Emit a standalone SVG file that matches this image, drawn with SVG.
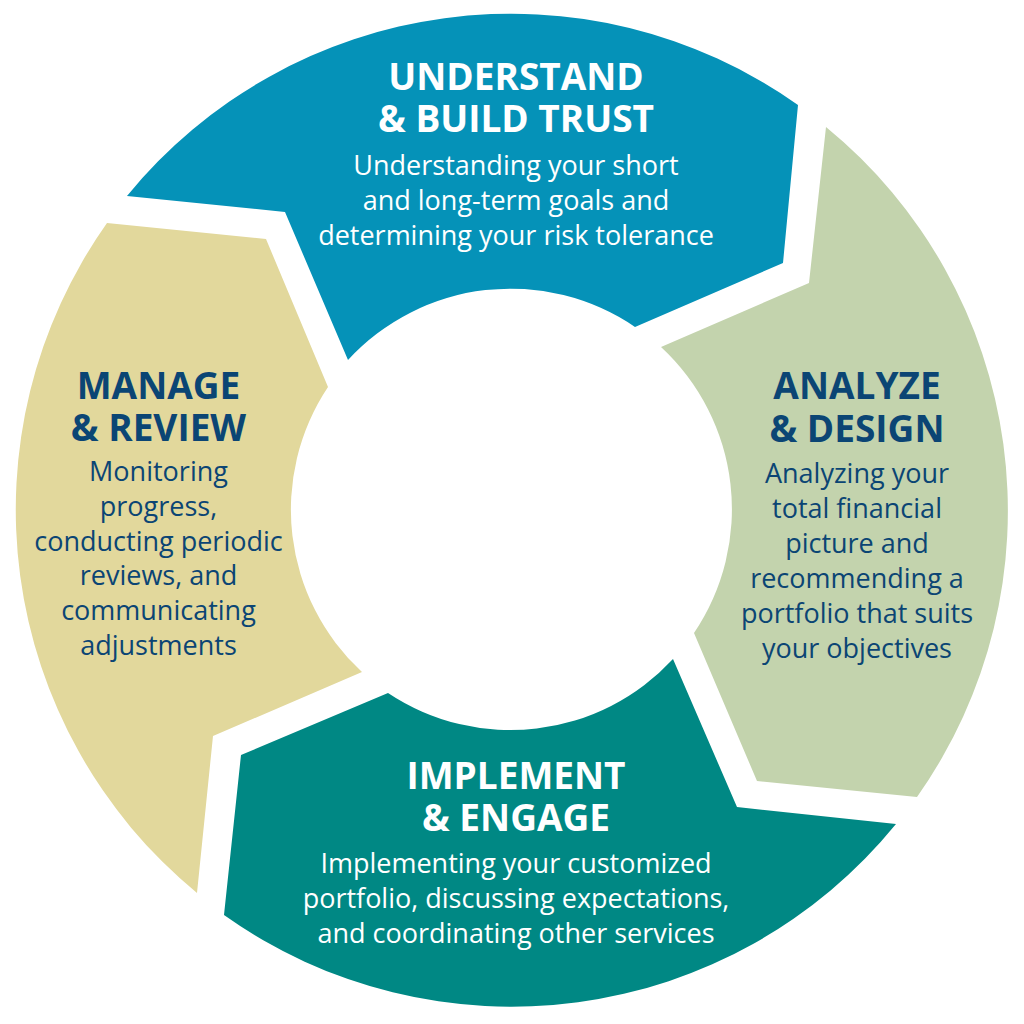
<svg xmlns="http://www.w3.org/2000/svg" width="1024" height="1024" viewBox="0 0 1024 1024">
<style>
.title{font-family:"Open Sans","Noto Sans","DejaVu Sans",sans-serif;font-weight:700;font-size:37px;text-anchor:middle}
.body{font-family:"Open Sans","Noto Sans","DejaVu Sans",sans-serif;font-weight:400;font-size:27px;text-anchor:middle}
.light{fill:#ffffff}
.dark{fill:#0B4574}
</style>
<rect width="1024" height="1024" fill="#ffffff"/>
<g id="understand">
<path d="M127,196 A496,496 0 0 1 798,105 L783,263 L635,327 A221,221 0 0 0 348,360 L285,212 Z" fill="#0592B8"/>
<text class="title light" x="516" y="90">UNDERSTAND</text>
<text class="title light" x="516" y="132">&amp; BUILD TRUST</text>
<text class="body light" x="516" y="175">Understanding your short</text>
<text class="body light" x="516" y="210">and long-term goals and</text>
<text class="body light" x="516" y="245">determining your risk tolerance</text>
</g>
<g id="analyze">
<path d="M826,127 A496,496 0 0 1 917,797 L757,781 L694,633 A221,221 0 0 0 661,347 L809,283 Z" fill="#C3D3AD"/>
<text class="title dark" x="857" y="399">ANALYZE</text>
<text class="title dark" x="857" y="442">&amp; DESIGN</text>
<text class="body dark" x="857" y="483">Analyzing your</text>
<text class="body dark" x="857" y="518">total financial</text>
<text class="body dark" x="857" y="553">picture and</text>
<text class="body dark" x="857" y="588">recommending a</text>
<text class="body dark" x="857" y="623">portfolio that suits</text>
<text class="body dark" x="857" y="658">your objectives</text>
</g>
<g id="implement">
<path d="M896,824 A496,496 0 0 1 224,915 L241,755 L388,693 A221,221 0 0 0 673,659 L737,807 Z" fill="#008884"/>
<text class="title light" x="516" y="789">IMPLEMENT</text>
<text class="title light" x="516" y="831">&amp; ENGAGE</text>
<text class="body light" x="516" y="873">Implementing your customized</text>
<text class="body light" x="516" y="908">portfolio, discussing expectations,</text>
<text class="body light" x="516" y="943">and coordinating other services</text>
</g>
<g id="manage">
<path d="M197,893 A496,496 0 0 1 107,223 L266,239 L328,387 A221,221 0 0 0 362,672 L213,736 Z" fill="#E2D89C"/>
<text class="title dark" x="158.5" y="399">MANAGE</text>
<text class="title dark" x="158.5" y="441">&amp; REVIEW</text>
<text class="body dark" x="158.5" y="481">Monitoring</text>
<text class="body dark" x="158.5" y="516">progress,</text>
<text class="body dark" x="158.5" y="551">conducting periodic</text>
<text class="body dark" x="158.5" y="585">reviews, and</text>
<text class="body dark" x="158.5" y="620">communicating</text>
<text class="body dark" x="158.5" y="655">adjustments</text>
</g>
<g id="connectors"></g>
</svg>
